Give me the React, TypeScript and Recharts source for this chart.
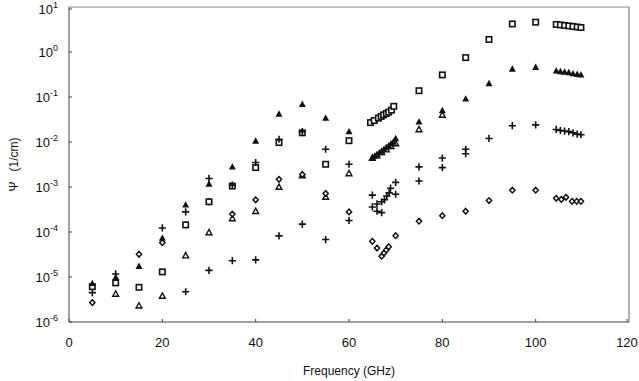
import { ScatterChart, Scatter, XAxis, YAxis, ReferenceLine } from 'recharts'

// open squares
const squarePts = [
  { f: 5, psi: 6.1e-6 }, { f: 10, psi: 7.4e-6 }, { f: 15, psi: 5.9e-6 }, { f: 20, psi: 1.3e-5 },
  { f: 25, psi: 1.44e-4 }, { f: 30, psi: 4.7e-4 }, { f: 35, psi: 1.05e-3 }, { f: 40, psi: 2.7e-3 },
  { f: 45, psi: 9.7e-3 }, { f: 50, psi: 1.6e-2 }, { f: 55, psi: 3.2e-3 }, { f: 60, psi: 1.07e-2 },
  { f: 64.6, psi: 0.027 }, { f: 65.4, psi: 0.03 }, { f: 66.3, psi: 0.034 }, { f: 66.9, psi: 0.037 },
  { f: 67.4, psi: 0.04 }, { f: 68, psi: 0.043 }, { f: 68.5, psi: 0.046 }, { f: 69.1, psi: 0.051 },
  { f: 69.6, psi: 0.062 },
  { f: 75, psi: 0.138 }, { f: 80, psi: 0.31 }, { f: 85, psi: 0.75 }, { f: 90, psi: 1.9 },
  { f: 95, psi: 4.2 }, { f: 100, psi: 4.6 },
  { f: 104.4, psi: 4.1 }, { f: 105.3, psi: 4.0 }, { f: 106.2, psi: 3.9 }, { f: 107.1, psi: 3.8 },
  { f: 108, psi: 3.7 }, { f: 108.9, psi: 3.6 }, { f: 109.7, psi: 3.5 },
]

// filled triangles
const filledTriPts = [
  { f: 5, psi: 7.2e-6 }, { f: 10, psi: 9.8e-6 }, { f: 15, psi: 1.74e-5 }, { f: 20, psi: 7.3e-5 },
  { f: 25, psi: 4.0e-4 }, { f: 30, psi: 1.17e-3 }, { f: 35, psi: 2.8e-3 }, { f: 40, psi: 1.05e-2 },
  { f: 45, psi: 4.2e-2 }, { f: 50, psi: 6.9e-2 }, { f: 55, psi: 3.4e-2 }, { f: 60, psi: 1.7e-2 },
  { f: 65, psi: 4.6e-3 }, { f: 65.5, psi: 4.9e-3 }, { f: 66, psi: 5.3e-3 }, { f: 66.5, psi: 5.8e-3 },
  { f: 67, psi: 6.3e-3 }, { f: 67.5, psi: 6.9e-3 }, { f: 68, psi: 7.6e-3 }, { f: 68.5, psi: 8.3e-3 },
  { f: 69, psi: 9.2e-3 }, { f: 69.5, psi: 1.0e-2 }, { f: 70, psi: 1.2e-2 },
  { f: 75, psi: 2.8e-2 }, { f: 80, psi: 5.0e-2 }, { f: 85, psi: 9.1e-2 }, { f: 90, psi: 0.2 },
  { f: 95, psi: 0.42 }, { f: 100, psi: 0.46 },
  { f: 104.4, psi: 0.38 }, { f: 105.3, psi: 0.37 }, { f: 106.2, psi: 0.36 }, { f: 107.1, psi: 0.35 },
  { f: 108, psi: 0.33 }, { f: 108.9, psi: 0.32 }, { f: 109.7, psi: 0.31 },
]

// open triangles
const openTriPts = [
  { f: 10, psi: 4.2e-6 }, { f: 15, psi: 2.3e-6 }, { f: 20, psi: 3.8e-6 }, { f: 25, psi: 3.0e-5 },
  { f: 30, psi: 9.8e-5 }, { f: 35, psi: 2.0e-4 }, { f: 40, psi: 2.9e-4 }, { f: 45, psi: 1.0e-3 },
  { f: 50, psi: 1.8e-3 }, { f: 55, psi: 6.0e-4 }, { f: 60, psi: 2.0e-3 },
  { f: 65, psi: 4.4e-3 }, { f: 66, psi: 5.0e-3 }, { f: 67, psi: 5.9e-3 }, { f: 68, psi: 6.8e-3 },
  { f: 69, psi: 8.0e-3 }, { f: 70, psi: 9.3e-3 },
  { f: 75, psi: 1.9e-2 }, { f: 80, psi: 4.0e-2 },
]

// crosses
const plusPts = [
  { f: 5, psi: 4.5e-6 }, { f: 10, psi: 1.17e-5 }, { f: 20, psi: 1.23e-4 },
  { f: 25, psi: 2.8e-4 }, { f: 25, psi: 4.7e-6 }, { f: 30, psi: 1.55e-3 }, { f: 30, psi: 1.4e-5 },
  { f: 35, psi: 1.1e-3 }, { f: 35, psi: 2.3e-5 }, { f: 40, psi: 3.5e-3 }, { f: 40, psi: 2.4e-5 },
  { f: 45, psi: 1.15e-2 }, { f: 45, psi: 8.2e-5 }, { f: 50, psi: 1.7e-2 }, { f: 50, psi: 1.5e-4 },
  { f: 55, psi: 6.9e-3 }, { f: 55, psi: 6.8e-5 }, { f: 60, psi: 3.2e-3 }, { f: 60, psi: 1.8e-4 },
  { f: 65, psi: 6.6e-4 }, { f: 68.9, psi: 9.4e-4 }, { f: 70, psi: 1.27e-3 },
  { f: 65, psi: 3.6e-4 }, { f: 66, psi: 4.2e-4 }, { f: 66, psi: 2.9e-4 }, { f: 67, psi: 2.7e-4 },
  { f: 67, psi: 4.7e-4 }, { f: 67.6, psi: 5.2e-4 }, { f: 68.1, psi: 6.3e-4 }, { f: 68.6, psi: 7.4e-4 },
  { f: 70, psi: 6.9e-4 },
  { f: 75, psi: 2.8e-3 }, { f: 75, psi: 1.36e-3 }, { f: 80, psi: 4.4e-3 }, { f: 80, psi: 2.7e-3 },
  { f: 85, psi: 6.9e-3 }, { f: 85, psi: 5.5e-3 }, { f: 90, psi: 1.2e-2 }, { f: 95, psi: 2.3e-2 },
  { f: 100, psi: 2.4e-2 },
  { f: 104.4, psi: 1.9e-2 }, { f: 105.3, psi: 1.8e-2 }, { f: 106.2, psi: 1.75e-2 }, { f: 107.1, psi: 1.7e-2 },
  { f: 108, psi: 1.6e-2 }, { f: 108.9, psi: 1.5e-2 }, { f: 109.7, psi: 1.45e-2 },
]

// open diamonds
const diamondPts = [
  { f: 5, psi: 2.7e-6 }, { f: 15, psi: 3.2e-5 }, { f: 20, psi: 5.8e-5 }, { f: 25, psi: 1.44e-4 },
  { f: 30, psi: 4.7e-4 }, { f: 35, psi: 2.5e-4 }, { f: 40, psi: 5.2e-4 }, { f: 45, psi: 1.48e-3 },
  { f: 50, psi: 1.9e-3 }, { f: 55, psi: 7.2e-4 }, { f: 60, psi: 2.8e-4 },
  { f: 65, psi: 6.2e-5 }, { f: 66, psi: 4.4e-5 }, { f: 67, psi: 2.9e-5 }, { f: 67.5, psi: 3.4e-5 },
  { f: 68, psi: 4.0e-5 }, { f: 68.5, psi: 4.7e-5 }, { f: 70, psi: 8.3e-5 },
  { f: 75, psi: 1.74e-4 }, { f: 80, psi: 2.3e-4 }, { f: 85, psi: 2.9e-4 }, { f: 90, psi: 5.0e-4 },
  { f: 95, psi: 8.5e-4 }, { f: 100, psi: 8.5e-4 },
  { f: 104.4, psi: 5.6e-4 }, { f: 105.5, psi: 5.3e-4 }, { f: 106.5, psi: 5.9e-4 }, { f: 107.8, psi: 4.8e-4 },
  { f: 108.8, psi: 4.8e-4 }, { f: 109.7, psi: 4.8e-4 },
]

const xTicks = [0, 20, 40, 60, 80, 100, 120]
const yTicks = [1e-6, 1e-5, 1e-4, 1e-3, 1e-2, 1e-1, 1, 10]

const FONT = '"Liberation Sans", Arial, sans-serif'
const INK = '#111'

const OpenSquare = (p: any) => (
  <rect x={p.cx - 2.7} y={p.cy - 2.7} width={5.4} height={5.4} fill="#fff" stroke={INK} strokeWidth={1.6} />
)
const FilledTri = (p: any) => (
  <path d={`M${p.cx},${p.cy - 3.7}L${p.cx + 3.5},${p.cy + 2.7}L${p.cx - 3.5},${p.cy + 2.7}Z`} fill={INK} />
)
const OpenTri = (p: any) => (
  <path d={`M${p.cx},${p.cy - 3}L${p.cx + 2.9},${p.cy + 2.3}L${p.cx - 2.9},${p.cy + 2.3}Z`} fill="#fff" stroke={INK} strokeWidth={1.4} />
)
const Plus = (p: any) => (
  <path d={`M${p.cx - 3.6},${p.cy}H${p.cx + 3.6}M${p.cx},${p.cy - 3.6}V${p.cy + 3.6}`} stroke={INK} strokeWidth={1.6} fill="none" />
)
const Diamond = (p: any) => (
  <path d={`M${p.cx},${p.cy - 2.8}L${p.cx + 2.6},${p.cy}L${p.cx},${p.cy + 2.8}L${p.cx - 2.6},${p.cy}Z`} fill="#fff" stroke={INK} strokeWidth={1.5} />
)

const XTick = (p: any) => (
  <g>
    <line x1={p.x} x2={p.x} y1={p.y} y2={p.y - 3} stroke="#444" />
    <text x={p.x} y={p.y + 25} textAnchor="middle" fontSize={13} fontFamily={FONT} fill={INK}>
      {p.payload.value}
    </text>
  </g>
)

const YTick = (p: any) => {
  const exp = Math.round(Math.log10(p.payload.value))
  return (
    <g>
      <line x1={p.x} x2={p.x + 3} y1={p.y} y2={p.y} stroke="#444" />
      <text x={p.x - 11} y={p.y + 5} textAnchor="end" fontSize={13} fontFamily={FONT} fill={INK}>
        10<tspan dy={-6} fontSize={9}>{exp}</tspan>
      </text>
    </g>
  )
}

export default function App() {
  return (
    <div style={{ position: 'absolute', left: 0, top: 0, background: '#fff' }}>
      <ScatterChart width={639} height={381} margin={{ top: 7, right: 10, bottom: 0, left: 0 }}>
        <XAxis
          type="number"
          dataKey="f"
          domain={[0, 120]}
          ticks={xTicks}
          tickSize={0}
          tickMargin={0}
          tick={XTick}
          height={59}
          stroke="#444"
          label={{ value: 'Frequency (GHz)', position: 'insideBottom', offset: 6, fontSize: 12, fontFamily: FONT, fill: INK }}
        />
        <YAxis
          type="number"
          dataKey="psi"
          scale="log"
          domain={[1e-6, 10]}
          allowDataOverflow
          ticks={yTicks}
          tickSize={0}
          tickMargin={0}
          tick={YTick}
          width={69}
          stroke="#444"
          label={{ value: 'Ψ\u00a0\u00a0\u00a0(1/cm)', angle: -90, position: 'insideLeft', offset: 14, fontSize: 12, fontFamily: FONT, fill: INK, style: { textAnchor: 'middle' } }}
        />
        <ReferenceLine y={10} stroke="#888" />
        <ReferenceLine x={120} stroke="#666" />
        <Scatter data={openTriPts} shape={OpenTri} isAnimationActive={false} />
        <Scatter data={diamondPts} shape={Diamond} isAnimationActive={false} />
        <Scatter data={squarePts} shape={OpenSquare} isAnimationActive={false} />
        <Scatter data={filledTriPts} shape={FilledTri} isAnimationActive={false} />
        <Scatter data={plusPts} shape={Plus} isAnimationActive={false} />
      </ScatterChart>
    </div>
  )
}
